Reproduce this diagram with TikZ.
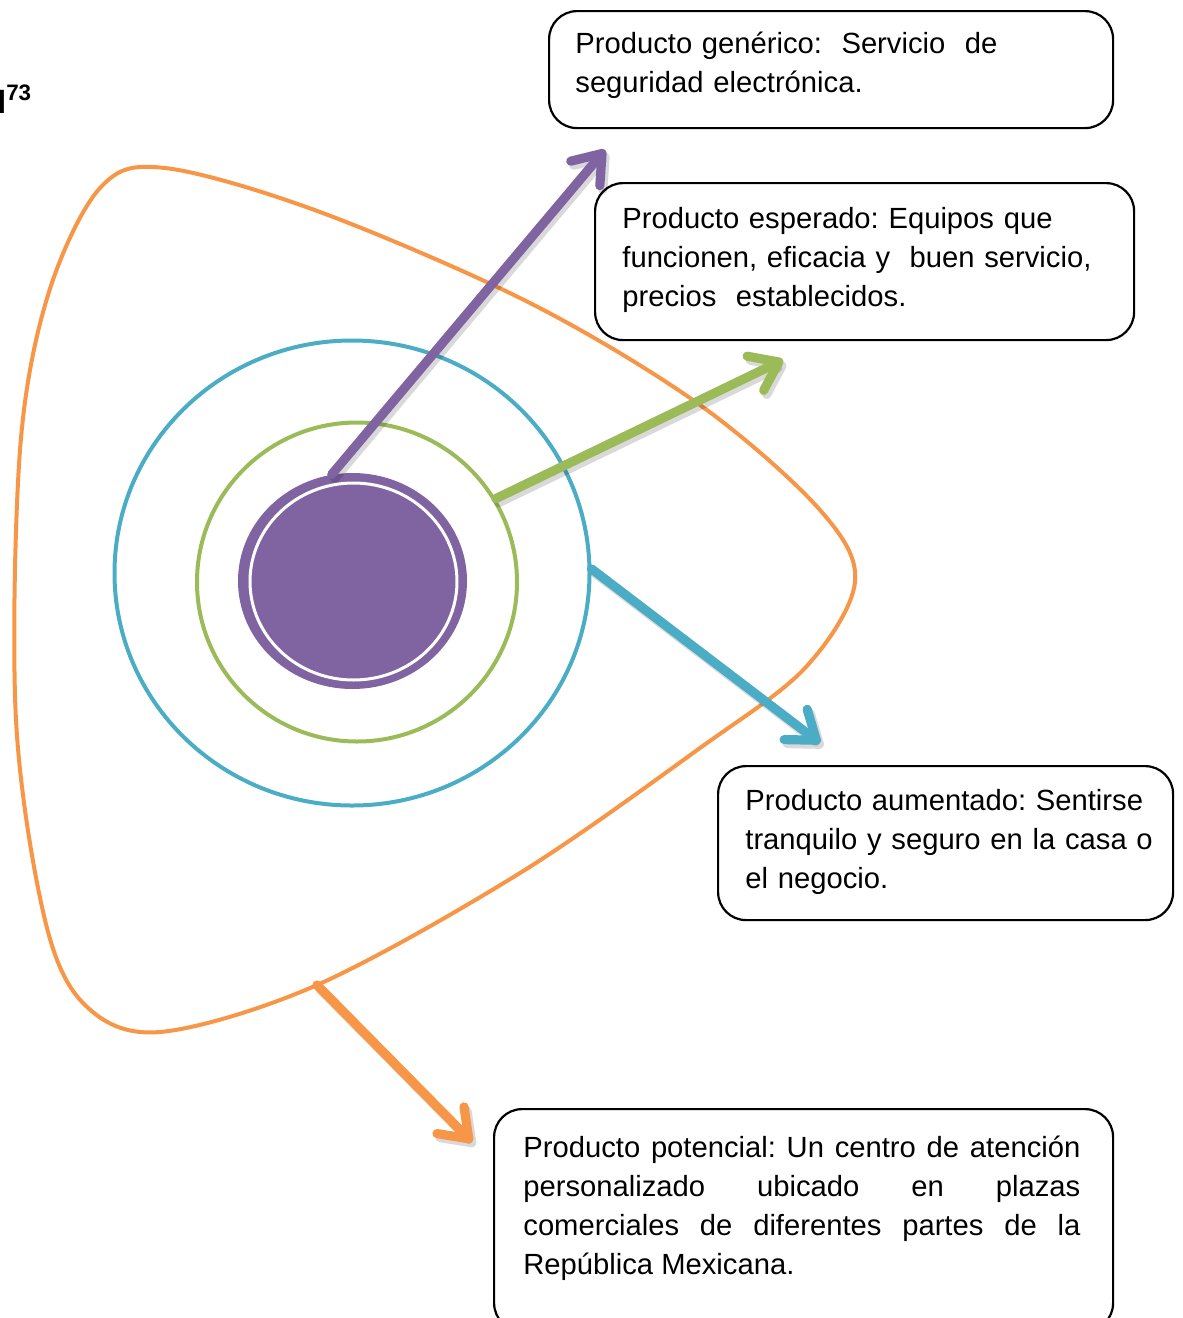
\documentclass[tikz,border=0pt]{standalone}
\usepackage{fontspec}
\setmainfont{Liberation Sans}
\usetikzlibrary{shapes.geometric, arrows.meta, positioning}
\definecolor{kpurple}{HTML}{8064A2}
\definecolor{kgreen}{HTML}{9BBB59}
\definecolor{kblue}{HTML}{4BACC6}
\definecolor{korange}{HTML}{F79646}
\frenchspacing
\begin{document}
\begin{tikzpicture}[
			x=0.5pt, y=-0.5pt,
			ring/.style={ellipse, draw, line width=2pt, inner sep=0},
			box/.style={rectangle, draw, line width=1.1pt, rounded corners=14pt, anchor=north west, inner sep=0},
			txt/.style={anchor=base west, inner sep=0, align=left, text width=#1, font=\fontsize{14.6pt}{19.5pt}\selectfont},
			arr/.style={line width=4.6pt, line cap=round, -{Straight Barb[length=13pt, width=19pt, round]}},
			shade/.style={arr, draw=black, opacity=0.15, transform canvas={shift={(1.5pt,-2pt)}}}
			]
			\path[use as bounding box, clip] (0,0) rectangle (1183,1318);
			\node[anchor=base west, inner sep=0, font=\fontsize{16pt}{19pt}\selectfont\bfseries] (ref) at (-3,113) {l\textsuperscript{73}};
			\draw[korange, line width=2pt] plot[smooth cycle, tension=0.55] coordinates {
				(855,582) (805,668) (700,748) (520,873) (317,985) (160,1032) (85,1005)
				(45,920) (16,720) (20,450) (48,295) (100,188) (165,168) (320,212)
				(530,303) (700,405) (820,510)};
			\coordinate (potStart) at (317,985);
			\node[ring, draw=kblue, minimum width=237.5pt, minimum height=232.5pt] (aum) at (352,573) {};
			\node[ring, draw=kgreen, minimum width=160pt, minimum height=159.5pt] (esp) at (357,582) {};
			\node[ellipse, fill=kpurple, minimum width=114.5pt, minimum height=108pt, inner sep=0] (core) at (352.5,581) {};
			\node[ring, draw=white, line width=1.5pt, minimum width=103.5pt, minimum height=98.5pt] (coreRing) at (353.5,581.5) {};
			\node[box, minimum width=282pt, minimum height=58.5pt] (genBox) at (548,10) {};
			\node[box, minimum width=269.5pt, minimum height=78.5pt] (espBox) at (594,182) {};
			\node[box, minimum width=227.5pt, minimum height=77pt] (aumBox) at (717,765) {};
			\node[box, minimum width=309.5pt, minimum height=111pt] (potBox) at (493,1108) {};
			\node[txt=260pt] (gen) at (575,53) {Producto genérico:\ \ Servicio\ \ de\\seguridad electrónica.};
			\node[txt=260pt] (espText) at (622,228) {Producto esperado: Equipos que\\funcionen, eficacia y\ \ buen servicio,\\precios\ \ establecidos.};
			\node[txt=220pt] (aumText) at (745,810) {Producto aumentado: Sentirse\\tranquilo y seguro en la casa o\\el negocio.};
			\node[txt=278.5pt, align=justify] (potText) at (523,1157) {Producto potencial: Un centro de atención\linebreak personalizado ubicado en plazas\linebreak comerciales de diferentes partes de la\linebreak República Mexicana.};
			\coordinate (genTip) at (605,150);
			\coordinate (espTip) at (783,360);
			\coordinate (aumTip) at (820,743);
			\coordinate (potTip) at (472,1142);
			\draw[shade] (core.101) -- (genTip);
			\draw[arr, kpurple] (core.101) -- (genTip);
			\draw[shade] (esp.31) -- (espTip);
			\draw[arr, kgreen] (esp.31) -- (espTip);
			\draw[shade] (aum.1) -- (aumTip);
			\draw[arr, kblue] (aum.1) -- (aumTip);
			\draw[shade] (potStart) -- (potTip);
			\draw[arr, korange] (potStart) -- (potTip);
		\end{tikzpicture}
\end{document}
